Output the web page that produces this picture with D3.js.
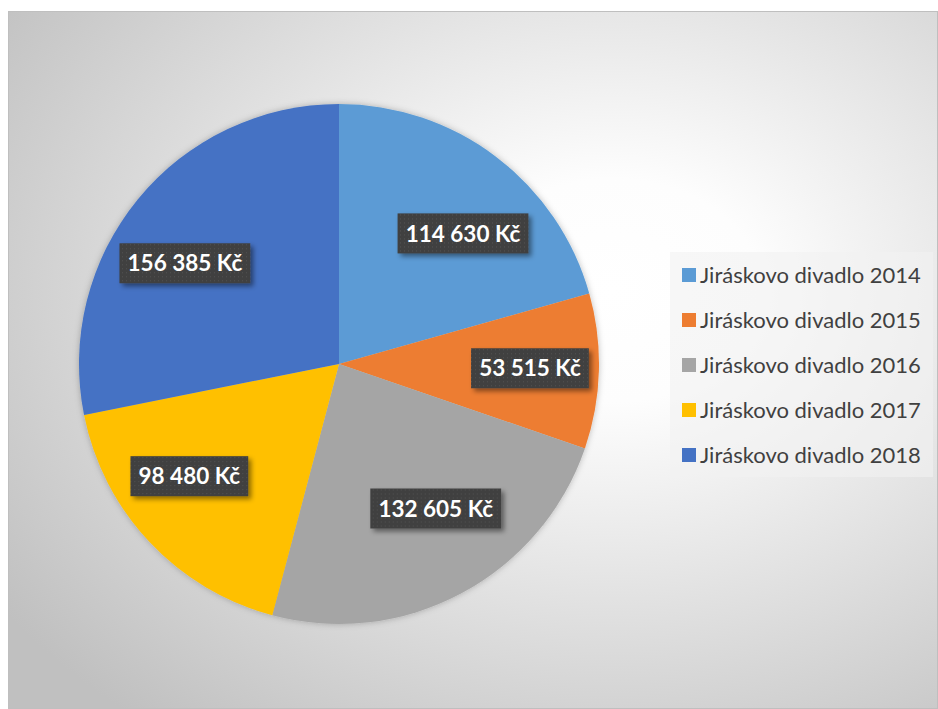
<!DOCTYPE html>
<html>
<head>
<meta charset="utf-8">
<script src="https://cdn.jsdelivr.net/npm/d3@7"></script>
<style>
  html, body { margin: 0; padding: 0; background: #fff; }
  svg { display: block; }
</style>
</head>
<body>
<div id="chart-container"></div>
<script>
// data
const categories = ["Jiráskovo divadlo 2014", "Jiráskovo divadlo 2015", "Jiráskovo divadlo 2016", "Jiráskovo divadlo 2017", "Jiráskovo divadlo 2018"];
const values = [114630, 53515, 132605, 98480, 156385];
const colors = ["#5B9BD5", "#ED7D31", "#A5A5A5", "#FFC000", "#4472C4"];

const width = 938, height = 709;
const frame = {x: 8, y: 11, w: 930, h: 698};
const cx = 339, cy = 364, radius = 260;
const fontFam = "Lato, 'Open Sans', sans-serif";

const svg = d3.select("#chart-container")
  .append("svg")
  .attr("width", width)
  .attr("height", height);

const defs = svg.append("defs");

// background gradient
const bg = defs.append("radialGradient")
  .attr("id", "bgGrad")
  .attr("cx", 0.65).attr("cy", 0.4).attr("r", 0.8)
  .attr("fx", 0.65).attr("fy", 0.4);
bg.append("stop").attr("offset", 0).attr("stop-color", "#ffffff");
bg.append("stop").attr("offset", 0.2).attr("stop-color", "#fdfdfd");
bg.append("stop").attr("offset", 1).attr("stop-color", "#c0c0c0");

// dotted pattern for label boxes
const pat = defs.append("pattern")
  .attr("id", "dots")
  .attr("patternUnits", "userSpaceOnUse")
  .attr("width", 4).attr("height", 4);
pat.append("rect").attr("width", 4).attr("height", 4).attr("fill", "#3f3f3f");
pat.append("rect").attr("x", 1).attr("y", 1).attr("width", 1).attr("height", 1).attr("fill", "#555");

// shadows
const sh = defs.append("filter").attr("id", "lblShadow")
  .attr("x", "-20%").attr("y", "-30%").attr("width", "150%").attr("height", "180%");
sh.append("feDropShadow").attr("dx", 3).attr("dy", 3).attr("stdDeviation", 2.5)
  .attr("flood-color", "#000").attr("flood-opacity", 0.45);

const pieSh = defs.append("filter").attr("id", "pieShadow")
  .attr("x", "-10%").attr("y", "-10%").attr("width", "120%").attr("height", "120%");
pieSh.append("feDropShadow").attr("dx", 0).attr("dy", 0).attr("stdDeviation", 3)
  .attr("flood-color", "#000").attr("flood-opacity", 0.25);

// chart area
svg.append("rect")
  .attr("x", frame.x + 0.5).attr("y", frame.y + 0.5)
  .attr("width", frame.w - 1).attr("height", frame.h - 1)
  .attr("fill", "url(#bgGrad)")
  .attr("stroke", "#bfbfbf")
  .attr("stroke-width", 1);

// pie
const data = categories.map((c, i) => ({name: c, value: values[i], color: colors[i]}));
const pie = d3.pie().sort(null).value(d => d.value);
const arcs = pie(data);
const arc = d3.arc().innerRadius(0).outerRadius(radius);

const g = svg.append("g").attr("transform", `translate(${cx},${cy})`);

g.append("g")
  .attr("filter", "url(#pieShadow)")
  .selectAll("path")
  .data(arcs)
  .join("path")
    .attr("d", arc)
    .attr("fill", d => d.data.color);

// data labels (Excel-like "best fit": elliptical placement, kept inside the pie)
const fmt = v => d3.format(",")(v).replace(/,/g, " ") + " Kč";
const labels = g.selectAll(".lbl")
  .data(arcs)
  .join("g")
    .attr("class", "lbl");

labels.append("rect");
labels.append("text")
  .attr("text-anchor", "middle")
  .attr("dy", "0.36em")
  .attr("fill", "#fff")
  .style("font-family", fontFam)
  .style("font-weight", "bold")
  .style("font-size", "22.5px")
  .text(d => fmt(d.data.value));

labels.each(function(d) {
  const sel = d3.select(this);
  const t = sel.select("text").node().getBBox();
  const padX = 8, h = 40;
  const w = t.width + padX * 2;
  sel.select("rect")
    .attr("x", -w / 2).attr("y", -h / 2)
    .attr("width", w).attr("height", h)
    .attr("fill", "url(#dots)")
    .attr("filter", "url(#lblShadow)");

  const a = (d.startAngle + d.endAngle) / 2;
  let x = radius * 0.79 * Math.sin(a), y = -radius * 0.63 * Math.cos(a);
  const far = (px, py) => Math.hypot(Math.abs(px) + w / 2, Math.abs(py) + h / 2);
  let s = 1;
  while (far(x * s, y * s) > radius * 0.97 && s > 0.3) s -= 0.01;
  sel.attr("transform", `translate(${x * s},${y * s})`);
});

// legend
const legend = svg.append("g").attr("transform", "translate(670,252)");
legend.append("rect")
  .attr("width", 263).attr("height", 225)
  .attr("fill", "#f2f2f2").attr("fill-opacity", 0.6);

const item = legend.selectAll(".item")
  .data(data)
  .join("g")
    .attr("class", "item")
    .attr("transform", (d, i) => `translate(12,${23 + i * 45})`);

item.append("rect")
  .attr("x", 0).attr("y", -7)
  .attr("width", 14).attr("height", 14)
  .attr("fill", d => d.color);

item.append("text")
  .attr("x", 18)
  .attr("dy", "0.36em")
  .attr("fill", "#404040")
  .style("font-family", fontFam)
  .style("font-size", "22px")
  .text(d => d.name);
</script>
</body>
</html>
